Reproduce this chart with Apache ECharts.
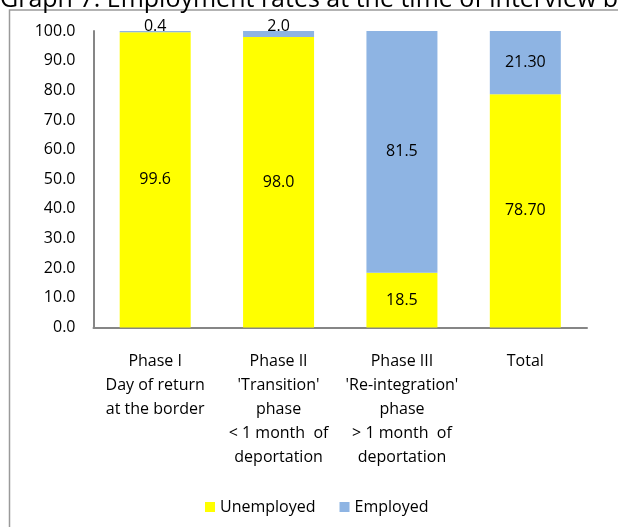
<!DOCTYPE html>
<html>
<head>
<meta charset="utf-8">
<script src="https://cdn.jsdelivr.net/npm/echarts@6/dist/echarts.min.js"></script>
<style>html,body{margin:0;padding:0;background:#fff}#c{width:618px;height:527px}</style>
</head>
<body>
<div id="c"></div>
<script>
const titleText = "Graph 7: Employment rates at the time of interview by phase";
const categories = [
  "Phase I\nDay of return\nat the border",
  "Phase II\n'Transition'\nphase\n< 1 month  of\ndeportation",
  "Phase III\n'Re-integration'\nphase\n> 1 month  of\ndeportation",
  "Total"
];
const unemployed = [99.6, 98.0, 18.5, 78.70];
const employed = [0.4, 2.0, 81.5, 21.30];
const decimals = [1, 1, 1, 2];
const yTicks = [0, 10, 20, 30, 40, 50, 60, 70, 80, 90, 100];
const seriesNames = ["Unemployed", "Employed"];

const FONT = "'Open Sans'";
const FS = 16;
const chart = echarts.init(document.getElementById('c'), null, {renderer: 'canvas'});
chart.setOption({
  animation: false,
  textStyle: {fontFamily: FONT},
  graphic: [{
    type: 'rect', shape: {x: 9.5, y: 10, width: 700, height: 600},
    style: {fill: 'none', stroke: '#9a9a9a', lineWidth: 1.5}, z: -10
  }, {
    type: 'text', x: 0, y: -13,
    style: {text: titleText, font: '25px ' + FONT, fill: '#000'}, z: 10
  }],
  grid: {left: 93.5, right: 31, top: 31, bottom: 199.5},
  legend: {
    bottom: 7, left: 200, itemWidth: 10, itemHeight: 10, itemGap: 24,
    icon: 'rect', textStyle: {fontSize: FS, color: '#000', fontFamily: FONT},
    data: seriesNames
  },
  xAxis: {
    type: 'category', data: categories,
    axisLine: {lineStyle: {color: '#868686', width: 2}},
    axisTick: {show: false},
    axisLabel: {interval: 0, color: '#000', fontSize: FS, lineHeight: 24, margin: 22, fontFamily: FONT}
  },
  yAxis: {
    type: 'value', min: yTicks[0], max: yTicks[yTicks.length - 1], interval: 10,
    axisLine: {show: true, lineStyle: {color: '#868686', width: 2}},
    axisTick: {show: false},
    splitLine: {show: false},
    axisLabel: {color: '#000', fontSize: FS, margin: 18, fontFamily: FONT,
      formatter: v => v.toFixed(1)}
  },
  series: [{
    name: seriesNames[0], type: 'bar', stack: 's', barWidth: 71,
    itemStyle: {color: '#FFFF00'},
    data: unemployed,
    label: {show: true, position: 'inside', color: '#000', fontSize: FS, fontFamily: FONT,
      formatter: p => p.value.toFixed(decimals[p.dataIndex])}
  }, {
    name: seriesNames[1], type: 'bar', stack: 's', barWidth: 71,
    itemStyle: {color: '#8EB4E3'},
    data: employed.map((v, i) => (v < 5 ? {value: v, label: {position: 'top', distance: -3}} : v)),
    label: {show: true, position: 'inside', color: '#000', fontSize: FS, fontFamily: FONT,
      formatter: p => p.value.toFixed(decimals[p.dataIndex])}
  }]
});
</script>
</body>
</html>
